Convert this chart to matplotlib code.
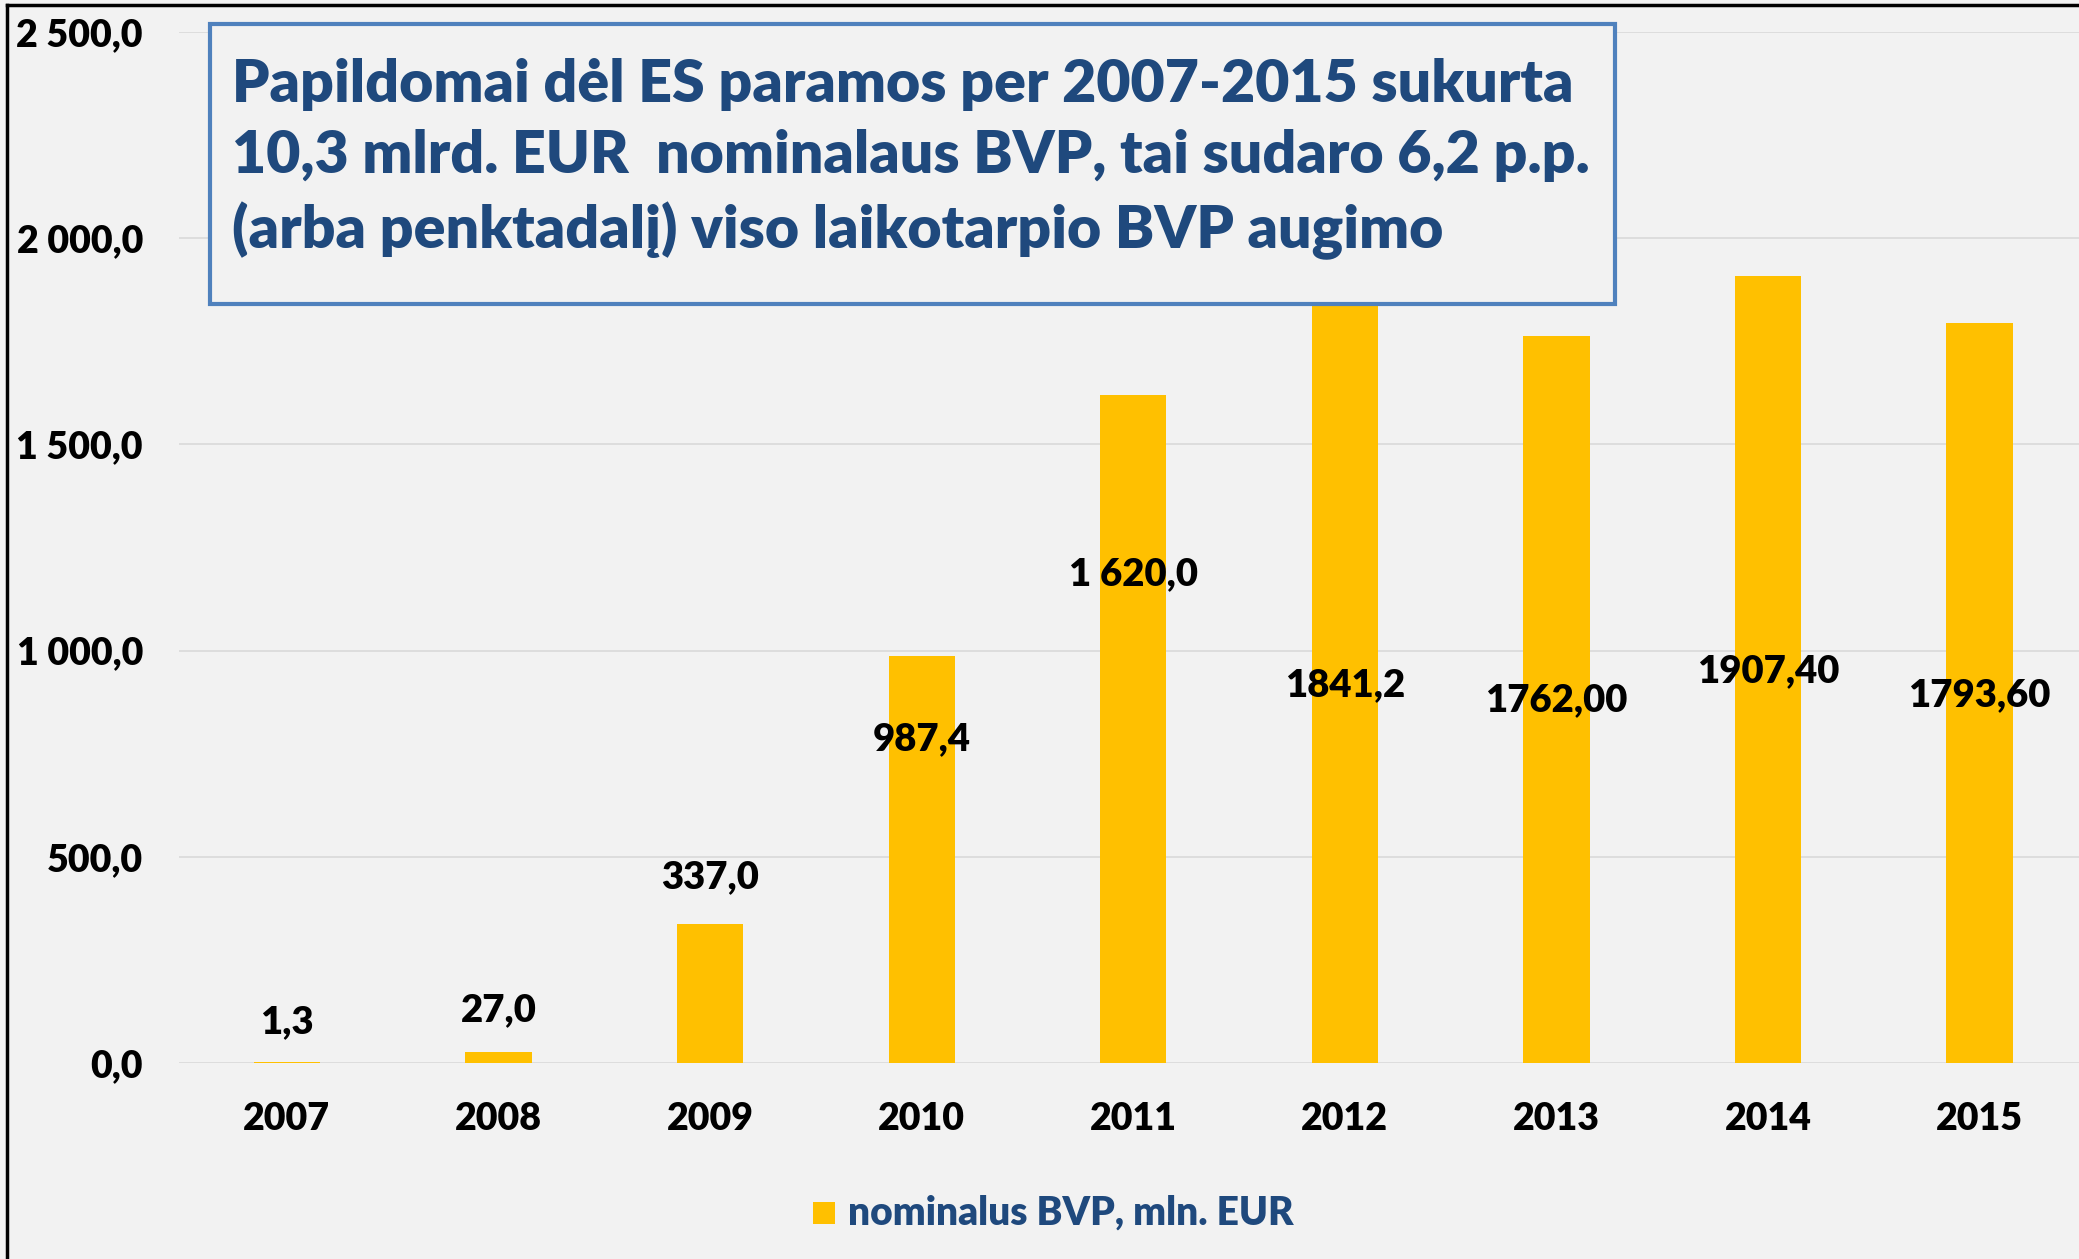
import matplotlib.pyplot as plt
from matplotlib.lines import Line2D
from matplotlib.patches import Rectangle

# data
years = ['2007', '2008', '2009', '2010', '2011', '2012', '2013', '2014', '2015']
gdp_added = [1.3, 27.0, 337.0, 987.4, 1620.0, 1841.2, 1762.0, 1907.4, 1793.6]
value_labels = ['1,3', '27,0', '337,0', '987,4', '1 620,0', '1841,2', '1762,00', '1907,40', '1793,60']
yticks = [0, 500, 1000, 1500, 2000, 2500]
ytick_labels = ['0,0', '500,0', '1 000,0', '1 500,0', '2 000,0', '2 500,0']
series_name = 'nominalus BVP, mln. EUR'
box_text = ('Papildomai dėl ES paramos per 2007-2015 sukurta\n'
            '10,3 mlrd. EUR  nominalaus BVP, tai sudaro 6,2 p.p.\n'
            '(arba penktadalį) viso laikotarpio BVP augimo')

# label placement (data units), labels were hand-placed in the original
label_y = [100, 128, 450, 784, 1186, 916, 880, 951, 893]

bg = '#F2F2F2'
bar_color = '#FFC000'
navy = '#1F497D'
wt = 'heavy'
plt.rcParams['font.family'] = ['Lato', 'DejaVu Sans']

fig = plt.figure(figsize=(20.79, 12.59), dpi=100, facecolor=bg)
ax = fig.add_axes([0.0861, 0.1557, 0.9139, 0.8189])
ax.set_facecolor(bg)

x = range(len(years))
ax.bar(x, gdp_added, width=0.313, color=bar_color, zorder=2)
ax.set_xlim(-0.51, 8.47)
ax.set_ylim(0, 2500)

ax.set_yticks(yticks)
ax.set_yticklabels(ytick_labels)
ax.set_xticks(list(x))
ax.set_xticklabels(years)
ax.tick_params(axis='y', length=0, pad=26, labelsize=27)
ax.tick_params(axis='x', length=0, pad=28, labelsize=27)
for lab in ax.get_xticklabels() + ax.get_yticklabels():
    lab.set_fontweight(wt)
ax.grid(axis='y', color='#D9D9D9', linewidth=1.2, zorder=0)
for s in ax.spines.values():
    s.set_visible(False)

for xi, ly, txt in zip(x, label_y, value_labels):
    ax.text(xi, ly, txt, ha='center', va='center', fontsize=27.5,
            fontweight=wt, color='black', zorder=4)

# annotation box
fig.add_artist(Rectangle((210 / 2079, 1 - 304 / 1259), 1405 / 2079, 280 / 1259,
                         transform=fig.transFigure, facecolor=bg,
                         edgecolor='#4F81BD', linewidth=3, zorder=5))
fig.text(232 / 2079, 1 - 159 / 1259, box_text, ha='left', va='center',
         fontsize=42.5, fontweight=wt, color=navy, linespacing=1.42, zorder=6)

# legend
fig.add_artist(Rectangle((813 / 2079, 1 - 1224 / 1259), 22 / 2079, 22 / 1259,
                         transform=fig.transFigure, facecolor=bar_color,
                         edgecolor='none'))
fig.text(848 / 2079, 1 - 1213 / 1259, series_name, ha='left', va='center',
         fontsize=28, fontweight=wt, color=navy)

# outer frame (top and left visible)
fig.add_artist(Line2D([7 / 2079, 7 / 2079], [0, 1 - 5 / 1259], color='black', linewidth=2.5))
fig.add_artist(Line2D([7 / 2079, 1], [1 - 5 / 1259, 1 - 5 / 1259], color='black', linewidth=2.5))

fig.savefig('out.png', dpi=100, facecolor=bg)
